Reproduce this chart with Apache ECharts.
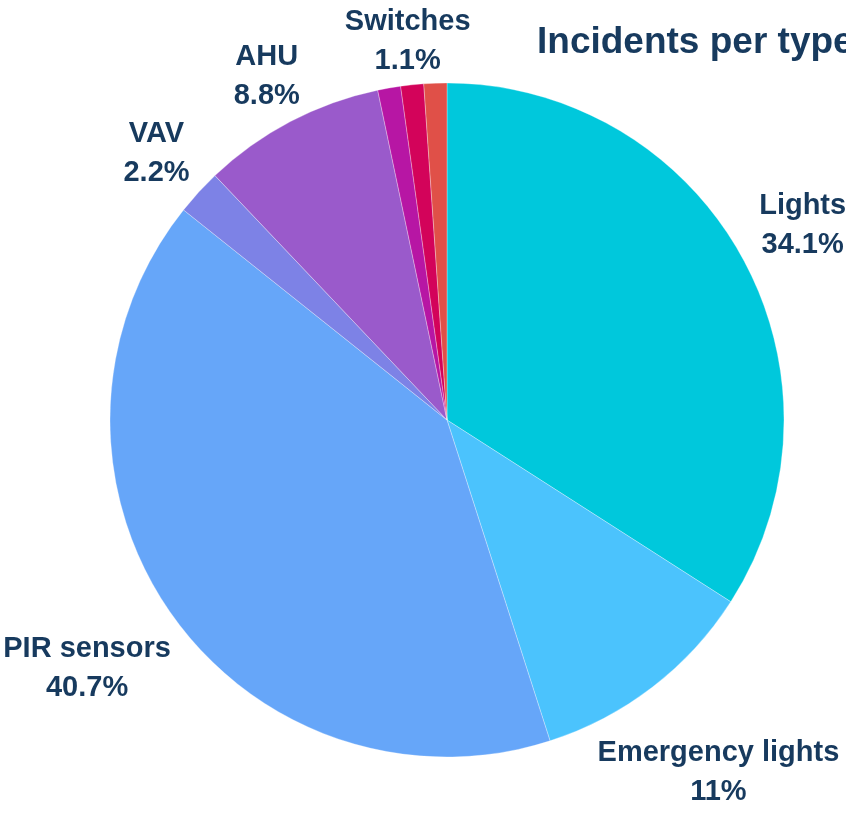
<!DOCTYPE html>
<html>
<head>
<meta charset="utf-8">
<title>Incidents per type</title>
<script src="https://cdn.jsdelivr.net/npm/echarts@6/dist/echarts.min.js"></script>
<style>
  html, body { margin: 0; padding: 0; background: #fff; }
  #pieChart { width: 846px; height: 815px; }
</style>
</head>
<body>
<div id="pieChart"></div>
<script>
// incident counts per device type (clockwise from 12 o'clock)
var types = ['Lights', 'Emergency lights', 'PIR sensors', 'VAV', 'AHU', 'Thermostats', 'Switches', 'Meters']
var counts = [31, 10, 37, 2, 8, 1, 1, 1]
var colors = ['#00c8dc', '#4bc3fd', '#66a6f9', '#7d82e6', '#9a5acb', '#b716a4', '#d3035a', '#e05048']
// slices whose label is not shown in the picture
var hiddenLabels = ['Thermostats', 'Meters']

var total = counts.reduce(function (a, b) { return a + b }, 0)
var textColor = '#173a5e'
var labelGap = 24
var labelHalfH = 13

var chart = echarts.init(document.getElementById('pieChart'))

var option = {
  animation: false,
  title: {
    text: 'Incidents per type',
    left: 532,
    top: 19,
    textStyle: {
      fontFamily: 'Liberation Sans, Arial, sans-serif',
      fontSize: 37,
      fontWeight: 'bold',
      color: textColor
    }
  },
  series: [
    {
      type: 'pie',
      center: [447, 420],
      radius: 337,
      startAngle: 90,
      clockwise: true,
      avoidLabelOverlap: false,
      itemStyle: {
        borderColor: 'rgba(255,255,255,0.6)',
        borderWidth: 0.5
      },
      label: {
        show: true,
        position: 'outside',
        // plain rounding of each share (no largest-remainder adjustment)
        formatter: function (p) {
          return p.name + '\n' + +(p.value / total * 100).toFixed(1) + '%'
        },
        overflow: 'none',
        fontFamily: 'Liberation Sans, Arial, sans-serif',
        fontSize: 29,
        fontWeight: 'bold',
        lineHeight: 39,
        color: textColor
      },
      // keep the guide line (invisible) so its points give the slice direction
      labelLine: {
        show: true,
        length: 10,
        length2: 0,
        lineStyle: { opacity: 0 }
      },
      labelLayout: function (p) {
        var pts = p.labelLinePoints
        if (!pts) return {}
        var dx = pts[1][0] - pts[0][0]
        var dy = pts[1][1] - pts[0][1]
        var len = Math.sqrt(dx * dx + dy * dy) || 1
        dx /= len
        dy /= len
        var hw = p.labelRect.width / 2
        var d = labelGap + hw * Math.abs(dx) + labelHalfH * Math.abs(dy)
        return {
          x: pts[0][0] + dx * d,
          y: pts[0][1] + dy * d,
          align: 'center',
          verticalAlign: 'middle'
        }
      },
      data: types.map(function (name, i) {
        var item = { name: name, value: counts[i], itemStyle: { color: colors[i] } }
        if (hiddenLabels.indexOf(name) > -1) {
          item.label = { show: false }
          item.labelLine = { show: false }
        }
        return item
      })
    }
  ]
}

chart.setOption(option)
</script>
</body>
</html>
